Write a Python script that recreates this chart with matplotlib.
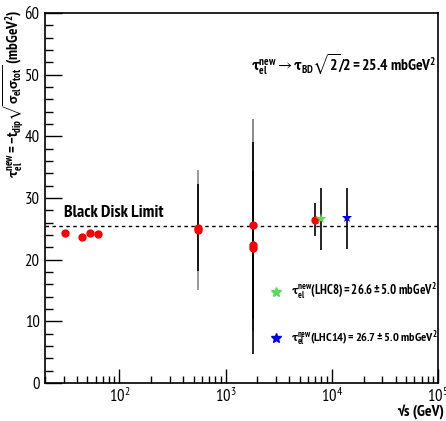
import matplotlib
matplotlib.use("Agg")
import matplotlib.pyplot as plt
from matplotlib.ticker import MultipleLocator, LogLocator, NullFormatter

FONT = 'PT Sans Narrow'
plt.rcParams['font.family'] = [FONT, 'Liberation Sans', 'DejaVu Sans']
plt.rcParams['mathtext.fontset'] = 'custom'
plt.rcParams['mathtext.rm'] = FONT
plt.rcParams['mathtext.bf'] = FONT + ':bold'
plt.rcParams['mathtext.it'] = FONT
plt.rcParams['mathtext.fallback'] = 'stixsans'

# data
data_energy = [30.7, 44.7, 52.8, 62.5, 546, 546, 1800, 1800, 1800, 7000]
data_tau = [24.3, 23.6, 24.3, 24.1, 24.8, 25.2, 25.6, 22.4, 21.9, 26.5]
data_err = [0.0, 0.0, 0.0, 0.0, 9.7, 7.0, 17.2, 12.0, 17.2, 2.7]
err_colors = ['black', 'black', 'black', 'black', '#888888', 'black', '#777777', 'black', 'black', 'black']

lhc8_energy, lhc8_tau, lhc8_err = 8000, 26.6, 5.0
lhc14_energy, lhc14_tau, lhc14_err = 14000, 26.7, 5.0
black_disk = 25.4

fig = plt.figure(figsize=(4.46, 4.21), dpi=100)
ax = fig.add_axes([0.101, 0.0903, 0.881, 0.8787])

for e, t, er, c in zip(data_energy, data_tau, data_err, err_colors):
    if er > 0:
        ax.errorbar([e], [t], yerr=[er], fmt='none', ecolor=c, elinewidth=1.2, capsize=0, zorder=2)
ax.plot(data_energy, data_tau, 'o', color='red', markersize=6, zorder=3, markeredgewidth=0)

ax.errorbar([lhc8_energy], [lhc8_tau], yerr=[lhc8_err], fmt='none', ecolor='black', elinewidth=1.2, capsize=0, zorder=2)
ax.plot([lhc8_energy], [lhc8_tau], '*', color='#55dd55', markersize=8, zorder=3, markeredgewidth=0)
ax.errorbar([lhc14_energy], [lhc14_tau], yerr=[lhc14_err], fmt='none', ecolor='black', elinewidth=1.2, capsize=0, zorder=2)
ax.plot([lhc14_energy], [lhc14_tau], '*', color='#0000ee', markersize=8, zorder=3, markeredgewidth=0)

ax.axhline(black_disk, color='black', linestyle=(0, (2.5, 2.5)), linewidth=1.0, zorder=1)

ax.set_xscale('log')
ax.set_xlim(20, 1e5)
ax.set_ylim(0, 60)
ax.yaxis.set_major_locator(MultipleLocator(10))
ax.yaxis.set_minor_locator(MultipleLocator(2))
ax.xaxis.set_minor_locator(LogLocator(base=10, subs=range(2, 10), numticks=20))
ax.xaxis.set_minor_formatter(NullFormatter())
ax.set_xticks([1e2, 1e3, 1e4, 1e5])
ax.set_xticklabels([r'$\mathregular{10^{2}}$', r'$\mathregular{10^{3}}$', r'$\mathregular{10^{4}}$', r'$\mathregular{10^{5}}$'])

ax.tick_params(axis='y', which='major', direction='in', length=12, width=1, labelsize=12, pad=4)
ax.tick_params(axis='y', which='minor', direction='in', length=6, width=1)
ax.tick_params(axis='x', which='major', direction='in', length=10, width=1, labelsize=12, pad=3)
ax.tick_params(axis='x', which='minor', direction='in', length=5, width=1)
for s in ax.spines.values():
    s.set_linewidth(1.2)

texts = []
t = ax.text(30, 26.3, 'Black Disk Limit', fontsize=13, fontweight='bold', ha='left', va='bottom')
texts.append((t, 100))

t = ax.text(0.524, 0.859, r'$\mathbf{\tau_{el}^{new}} \rightarrow \mathbf{\tau_{BD}}\sqrt{\mathbf{2}}\mathbf{/2 = 25.4\ mbGeV^{2}}$',
            transform=ax.transAxes, fontsize=13.5, ha='left', va='center')
texts.append((t, 185))

yt = ax.get_yaxis_transform()
ax.plot([0.589], [14.8], '*', color='#55dd55', markersize=7, transform=yt)
t = ax.text(0.625, 14.8, r'$\mathbf{\tau_{el}^{new}(LHC8) = 26.6 \pm 5.0\ mbGeV^{2}}$', transform=yt,
            fontsize=11, ha='left', va='center')
texts.append((t, 145))
ax.plot([0.589], [7.3], '*', color='#0000ee', markersize=7, transform=yt)
t = ax.text(0.625, 7.3, r'$\mathbf{\tau_{el}^{new}(LHC14) = 26.7 \pm 5.0\ mbGeV^{2}}$', transform=yt,
            fontsize=11, ha='left', va='center')
texts.append((t, 146))

fig.text(0.031, 0.977, r'$\mathbf{\tau_{el}^{new} = -t_{dip}\sqrt{\sigma_{el}\sigma_{tot}}\ (mbGeV^{2})}$',
         rotation=90, ha='center', va='top', fontsize=11)
t = fig.text(0.995, 0.004, '\u221as (GeV)', ha='right', va='bottom', fontsize=11, fontweight='bold')
texts.append((t, 47))

fig.canvas.draw()
r = fig.canvas.get_renderer()
for t, target in texts:
    bb = t.get_window_extent(renderer=r)
    if bb.width > 0:
        t.set_fontsize(t.get_fontsize() * target / bb.width)

fig.savefig('out.png', dpi=100)
